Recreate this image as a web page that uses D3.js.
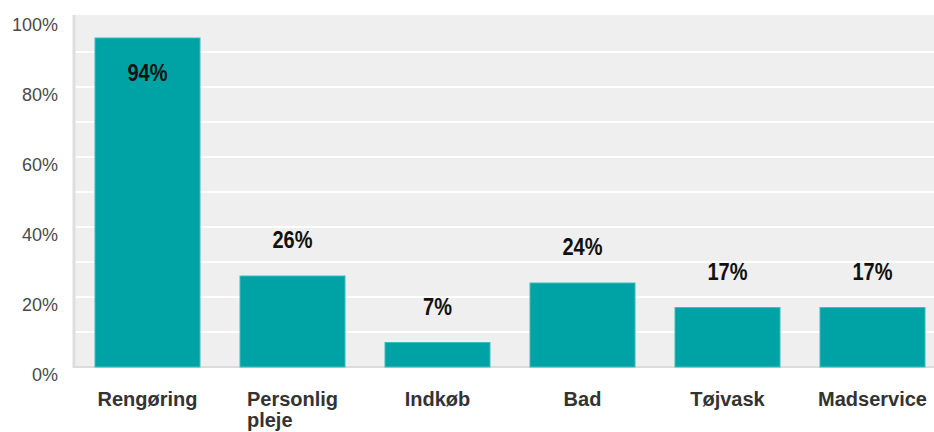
<!DOCTYPE html>
<html>
<head>
<meta charset="utf-8">
<script src="https://cdn.jsdelivr.net/npm/d3@7"></script>
<style>
  html, body { margin: 0; padding: 0; background: #ffffff; }
  svg { display: block; }
</style>
</head>
<body>
<svg id="chart" width="934" height="432"></svg>
<script>
// Share of respondents receiving each kind of home help
const categories = ["Rengøring", "Personlig pleje", "Indkøb", "Bad", "Tøjvask", "Madservice"];
const values = [94, 26, 7, 24, 17, 17];
const yTicks = [0, 20, 40, 60, 80, 100];
const gridTicks = [10, 20, 30, 40, 50, 60, 70, 80, 90];

const svg = d3.select("#chart");
const plotLeft = 75, plotRight = 945, plotTop = 15, plotBottom = 367;
const font = "'Liberation Sans', Arial, sans-serif";

const x = d3.scaleBand().domain(categories).range([plotLeft, plotRight])
  .paddingInner(40 / 145).paddingOuter(20 / 145);
const y = d3.scaleLinear().domain([0, 100]).range([plotBottom, 17]);

// plot background
svg.append("rect").attr("x", plotLeft).attr("y", plotTop)
  .attr("width", plotRight - plotLeft).attr("height", plotBottom - plotTop)
  .attr("fill", "#efefef");

// horizontal gridlines every 10%
svg.append("g").selectAll("line").data(gridTicks).join("line")
  .attr("x1", plotLeft).attr("x2", plotRight)
  .attr("y1", d => y(d)).attr("y2", d => y(d))
  .attr("stroke", "#ffffff").attr("stroke-width", 2);

// left and bottom frame lines
svg.append("line").attr("x1", plotLeft - 1).attr("x2", plotLeft - 1)
  .attr("y1", plotTop).attr("y2", plotBottom + 1)
  .attr("stroke", "#dedede").attr("stroke-width", 3);
svg.append("line").attr("x1", plotLeft - 2).attr("x2", plotRight)
  .attr("y1", plotBottom).attr("y2", plotBottom)
  .attr("stroke", "#dcdcdc").attr("stroke-width", 2);

// y axis tick labels
const yAxis = d3.axisLeft(y).tickValues(yTicks).tickFormat(d => d + "%").tickSize(0).tickPadding(0);
const gy = svg.append("g").attr("transform", "translate(58,8)").call(yAxis);
gy.select(".domain").remove();
gy.selectAll("text")
  .attr("font-family", font)
  .attr("font-size", 18).attr("fill", "#4a4a4a");

// bars
svg.append("g").selectAll("rect").data(values).join("rect")
  .attr("x", (d, i) => x(categories[i]))
  .attr("y", d => y(d))
  .attr("width", x.bandwidth())
  .attr("height", d => plotBottom - y(d))
  .attr("fill", "#00a3a5")
  .attr("stroke", "#3fbcbd").attr("stroke-width", 1);

// value labels: inside tall bars, above short ones (slightly tall lettering)
svg.append("g").selectAll("text").data(values).join("text")
  .attr("transform", (d, i) => {
    const cx = x(categories[i]) + x.bandwidth() / 2;
    const cy = d > 80 ? y(d) + 35 : y(d) - 36;
    return `translate(${cx},${cy}) scale(1,1.17)`;
  })
  .attr("dy", "0.35em")
  .attr("text-anchor", "middle")
  .attr("font-family", font)
  .attr("font-weight", "bold").attr("font-size", 20).attr("fill", "#111111")
  .text(d => d + "%");

// category labels, wrapped and left aligned within a centred block
const catG = svg.append("g");
categories.forEach((c) => {
  const lines = c.split(" ");
  const t = catG.append("text")
    .attr("font-family", font)
    .attr("font-weight", "bold").attr("font-size", 20).attr("fill", "#333333");
  lines.forEach((ln, j) => {
    t.append("tspan").attr("y", 406 + j * 21).text(ln);
  });
  const w = d3.max(t.selectAll("tspan").nodes(), n => n.getComputedTextLength());
  const cx = x(c) + x.bandwidth() / 2;
  t.selectAll("tspan").attr("x", cx - w / 2);
});
</script>
</body>
</html>
